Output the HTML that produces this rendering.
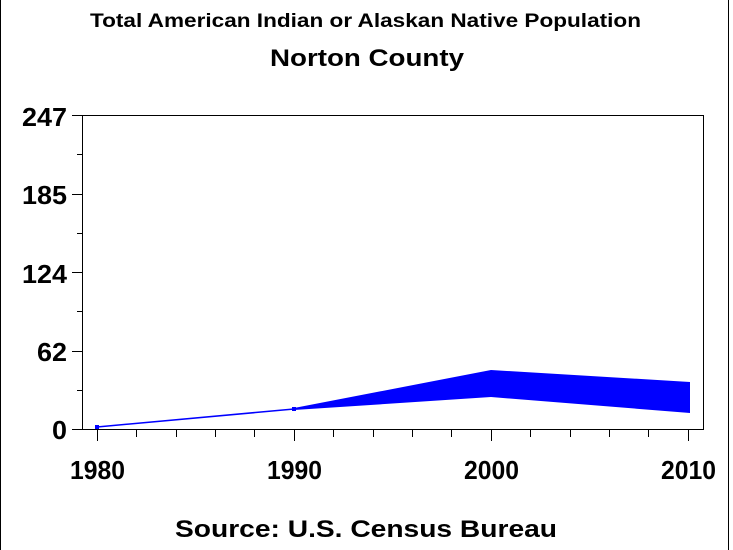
<!DOCTYPE html>
<html><head><style>
html,body{margin:0;padding:0;background:#fff;}
svg{display:block;}
text{font-family:"Liberation Sans",Arial,sans-serif;fill:#000;font-weight:bold;}
</style></head><body>
<svg width="733" height="550" xmlns="http://www.w3.org/2000/svg">
<rect x="0.5" y="-1" width="728" height="552" fill="none" stroke="#000" stroke-width="1"/>
<text x="90" y="27" font-size="19" textLength="551" lengthAdjust="spacingAndGlyphs">Total American Indian or Alaskan Native Population</text>
<text x="270" y="66" font-size="24" textLength="194" lengthAdjust="spacingAndGlyphs">Norton County</text>
<rect x="82.5" y="115.5" width="621" height="314" fill="none" stroke="#000" stroke-width="1"/>
<g stroke="#000" stroke-width="1">
<line x1="72" y1="115.5" x2="82" y2="115.5"/>
<line x1="77" y1="154.5" x2="82" y2="154.5"/>
<line x1="72" y1="194.5" x2="82" y2="194.5"/>
<line x1="77" y1="233.5" x2="82" y2="233.5"/>
<line x1="72" y1="272.5" x2="82" y2="272.5"/>
<line x1="77" y1="311.5" x2="82" y2="311.5"/>
<line x1="72" y1="351.5" x2="82" y2="351.5"/>
<line x1="77" y1="390.5" x2="82" y2="390.5"/>
<line x1="72" y1="429.5" x2="82" y2="429.5"/>
<line x1="97.5" y1="430" x2="97.5" y2="441"/>
<line x1="136.5" y1="430" x2="136.5" y2="437"/>
<line x1="176.5" y1="430" x2="176.5" y2="437"/>
<line x1="215.5" y1="430" x2="215.5" y2="437"/>
<line x1="254.5" y1="430" x2="254.5" y2="437"/>
<line x1="294.5" y1="430" x2="294.5" y2="441"/>
<line x1="333.5" y1="430" x2="333.5" y2="437"/>
<line x1="373.5" y1="430" x2="373.5" y2="437"/>
<line x1="412.5" y1="430" x2="412.5" y2="437"/>
<line x1="451.5" y1="430" x2="451.5" y2="437"/>
<line x1="491.5" y1="430" x2="491.5" y2="441"/>
<line x1="530.5" y1="430" x2="530.5" y2="437"/>
<line x1="570.5" y1="430" x2="570.5" y2="437"/>
<line x1="609.5" y1="430" x2="609.5" y2="437"/>
<line x1="648.5" y1="430" x2="648.5" y2="437"/>
<line x1="688.5" y1="430" x2="688.5" y2="441"/>
</g>
<g font-size="26">
<text x="22" y="126" textLength="45" lengthAdjust="spacingAndGlyphs">247</text>
<text x="22" y="204" textLength="45" lengthAdjust="spacingAndGlyphs">185</text>
<text x="22" y="283" textLength="45" lengthAdjust="spacingAndGlyphs">124</text>
<text x="37" y="361" textLength="30" lengthAdjust="spacingAndGlyphs">62</text>
<text x="52" y="439" textLength="15" lengthAdjust="spacingAndGlyphs">0</text>
</g>
<g font-size="26">
<text x="70" y="479" textLength="55" lengthAdjust="spacingAndGlyphs">1980</text>
<text x="267" y="479" textLength="55" lengthAdjust="spacingAndGlyphs">1990</text>
<text x="464" y="479" textLength="55" lengthAdjust="spacingAndGlyphs">2000</text>
<text x="661" y="479" textLength="55" lengthAdjust="spacingAndGlyphs">2010</text>
</g>
<text x="175" y="537" font-size="24" textLength="382" lengthAdjust="spacingAndGlyphs">Source: U.S. Census Bureau</text>
<polyline points="97,427 294,409" fill="none" stroke="#00f" stroke-width="1.5"/>
<polygon points="294,408 491,370 690,382 690,413 491,397 294,410" fill="#00f"/>
<rect x="95" y="425" width="4" height="4" fill="#00f"/>
<rect x="292" y="407" width="4" height="4" fill="#00f"/>
</svg>
</body></html>
